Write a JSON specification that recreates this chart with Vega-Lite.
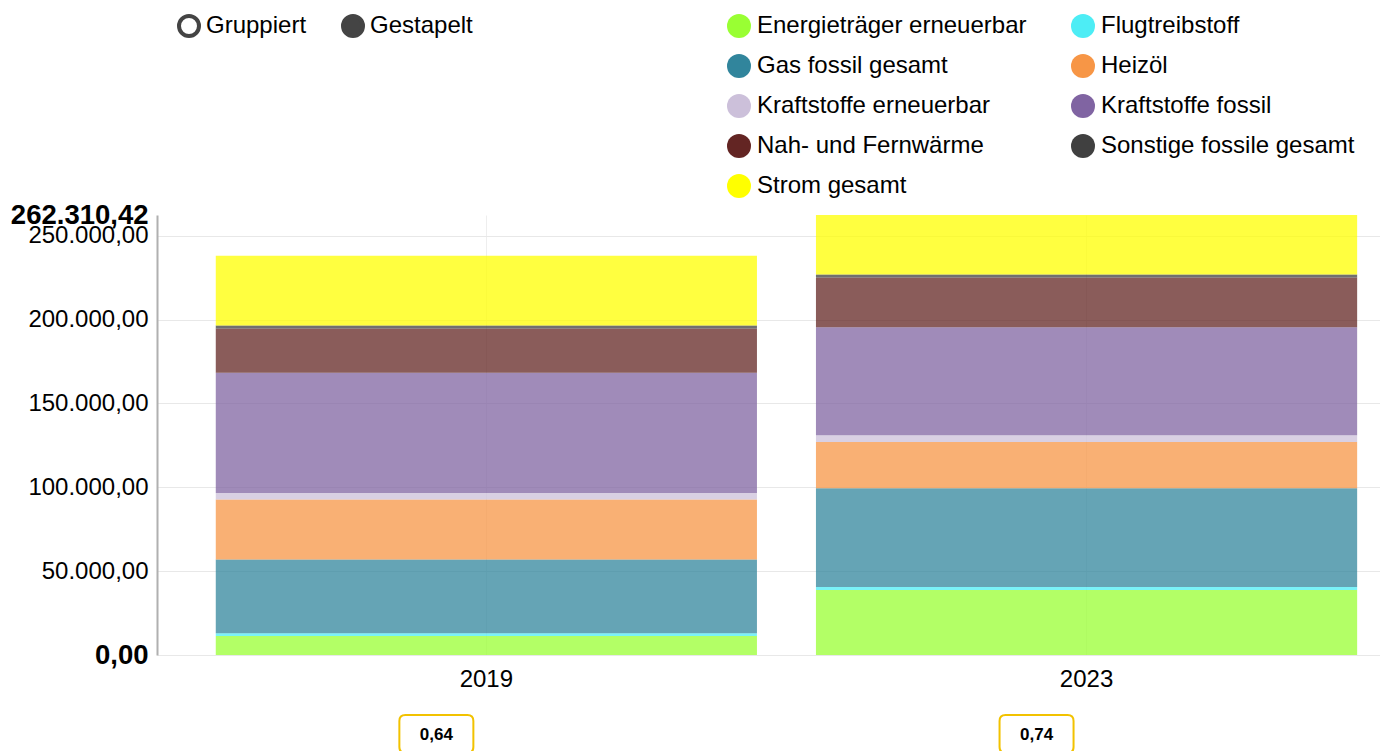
{
  "$schema": "https://vega.github.io/schema/vega-lite/v6.json",
  "width": 1223,
  "height": 440,
  "autosize": {"type": "none"},
  "padding": {"left": 157, "top": 215, "right": 0, "bottom": 96},
  "config": {
    "locale": {"number": {"decimal": ",", "thousands": ".", "grouping": [3], "currency": ["", " €"]}},
    "font": "Liberation Sans",
    "view": {"stroke": null}
  },
  "datasets": {
    "energie": [
      {"Jahr": "2019", "Energietraeger": "Energieträger erneuerbar", "Wert": 11310},
      {"Jahr": "2019", "Energietraeger": "Flugtreibstoff", "Wert": 1600},
      {"Jahr": "2019", "Energietraeger": "Gas fossil gesamt", "Wert": 44045},
      {"Jahr": "2019", "Energietraeger": "Heizöl", "Wert": 35712},
      {"Jahr": "2019", "Energietraeger": "Kraftstoffe erneuerbar", "Wert": 3930},
      {"Jahr": "2019", "Energietraeger": "Kraftstoffe fossil", "Wert": 71662},
      {"Jahr": "2019", "Energietraeger": "Nah- und Fernwärme", "Wert": 26368},
      {"Jahr": "2019", "Energietraeger": "Sonstige fossile gesamt", "Wert": 1786},
      {"Jahr": "2019", "Energietraeger": "Strom gesamt", "Wert": 41664},
      {"Jahr": "2023", "Energietraeger": "Energieträger erneuerbar", "Wert": 38688},
      {"Jahr": "2023", "Energietraeger": "Flugtreibstoff", "Wert": 1786},
      {"Jahr": "2023", "Energietraeger": "Gas fossil gesamt", "Wert": 58925},
      {"Jahr": "2023", "Energietraeger": "Heizöl", "Wert": 27558},
      {"Jahr": "2023", "Energietraeger": "Kraftstoffe erneuerbar", "Wert": 3988},
      {"Jahr": "2023", "Energietraeger": "Kraftstoffe fossil", "Wert": 64460},
      {"Jahr": "2023", "Energietraeger": "Nah- und Fernwärme", "Wert": 29581},
      {"Jahr": "2023", "Energietraeger": "Sonstige fossile gesamt", "Wert": 1786},
      {"Jahr": "2023", "Energietraeger": "Strom gesamt", "Wert": 35538.42}
    ],
    "kennzahl": [
      {"Jahr": "2019", "Wert": 0.64},
      {"Jahr": "2023", "Wert": 0.74}
    ],
    "darstellung": [
      {"Modus": "Gruppiert"},
      {"Modus": "Gestapelt"}
    ]
  },
  "layer": [
    {
      "data": {"name": "energie"},
      "mark": {"type": "bar", "opacity": 0.75},
      "encoding": {
        "x": {
          "field": "Jahr",
          "type": "nominal",
          "scale": {"domain": ["2019", "2023"], "paddingInner": 0.0983, "paddingOuter": 0.068, "align": 0.72},
          "axis": {
            "title": null,
            "labelAngle": 0,
            "labelFontSize": 24,
            "labelColor": "#000000",
            "ticks": false,
            "domain": false,
            "labelPadding": 12,
            "grid": true,
            "gridColor": "#eeeeee",
            "bandPosition": 0.5
          }
        },
        "y": {
          "field": "Wert",
          "type": "quantitative",
          "stack": "zero",
          "scale": {"domain": [0, 262310.42], "nice": false, "zero": true},
          "axis": {
            "title": null,
            "values": [0, 50000, 100000, 150000, 200000, 250000, 262310.42],
            "format": ",.2f",
            "ticks": false,
            "domainColor": "#b0b0b0",
            "domainWidth": 2,
            "gridColor": "#e8e8e8",
            "gridOpacity": {"condition": {"test": "datum.value > 260000", "value": 0}, "value": 1},
            "labelColor": "#000000",
            "labelFontSize": {"condition": {"test": "datum.value == 0 || datum.value > 260000", "value": 27.5}, "value": 24},
            "labelFontWeight": {"condition": {"test": "datum.value == 0 || datum.value > 260000", "value": "bold"}, "value": "normal"},
            "labelPadding": 9,
            "labelOverlap": false
          }
        },
        "order": {"field": "Energietraeger", "sort": "ascending"},
        "color": {
          "field": "Energietraeger",
          "type": "nominal",
          "scale": {
            "domain": ["Energieträger erneuerbar", "Gas fossil gesamt", "Kraftstoffe erneuerbar", "Nah- und Fernwärme", "Strom gesamt", "Flugtreibstoff", "Heizöl", "Kraftstoffe fossil", "Sonstige fossile gesamt"],
            "range": ["#99ff33", "#31859c", "#ccc0da", "#632523", "#ffff00", "#4dedf5", "#f79646", "#8064a2", "#404040"]
          },
          "legend": {
            "title": null,
            "orient": "none",
            "legendX": 570,
            "legendY": -201,
            "columns": 2,
            "symbolType": "circle",
            "symbolSize": 576,
            "symbolOpacity": 1,
            "symbolStrokeWidth": 0,
            "labelFontSize": 24,
            "labelColor": "#000000",
            "labelOffset": 6,
            "labelLimit": 400,
            "rowPadding": 16,
            "columnPadding": 44,
            "padding": 0
          }
        }
      }
    },
    {
      "data": {"name": "kennzahl"},
      "mark": {
        "type": "point",
        "shape": "M -0.838 -0.514 L 0.838 -0.514 Q 1 -0.514 1 -0.352 L 1 0.352 Q 1 0.514 0.838 0.514 L -0.838 0.514 Q -1 0.514 -1 0.352 L -1 -0.352 Q -1 -0.514 -0.838 -0.514 Z",
        "filled": false,
        "fill": "#ffffff",
        "stroke": "#f2c200",
        "strokeWidth": 2,
        "opacity": 1,
        "size": 5476,
        "xOffset": -50,
        "yOffset": 79
      },
      "encoding": {
        "x": {"field": "Jahr", "type": "nominal"},
        "y": {"datum": 0}
      }
    },
    {
      "data": {"name": "kennzahl"},
      "mark": {
        "type": "text",
        "fontSize": 17,
        "fontWeight": "bold",
        "color": "#000000",
        "baseline": "middle",
        "align": "center",
        "xOffset": -50,
        "yOffset": 80
      },
      "encoding": {
        "x": {"field": "Jahr", "type": "nominal"},
        "y": {"datum": 0},
        "text": {"field": "Wert", "type": "quantitative", "format": ",.2f"}
      }
    },
    {
      "data": {"name": "darstellung"},
      "mark": {"type": "point", "filled": true, "opacity": 0},
      "encoding": {
        "fill": {
          "field": "Modus",
          "type": "nominal",
          "scale": {"domain": ["Gruppiert", "Gestapelt"], "range": ["#ffffff", "#444444"]},
          "legend": {
            "title": null,
            "orient": "none",
            "legendX": 20,
            "legendY": -201,
            "direction": "horizontal",
            "symbolType": "circle",
            "symbolSize": 400,
            "symbolStrokeColor": "#444444",
            "symbolStrokeWidth": 4,
            "symbolOpacity": 1,
            "labelFontSize": 24,
            "labelColor": "#000000",
            "labelOffset": 5,
            "columnPadding": 28,
            "padding": 0
          }
        }
      }
    }
  ]
}
